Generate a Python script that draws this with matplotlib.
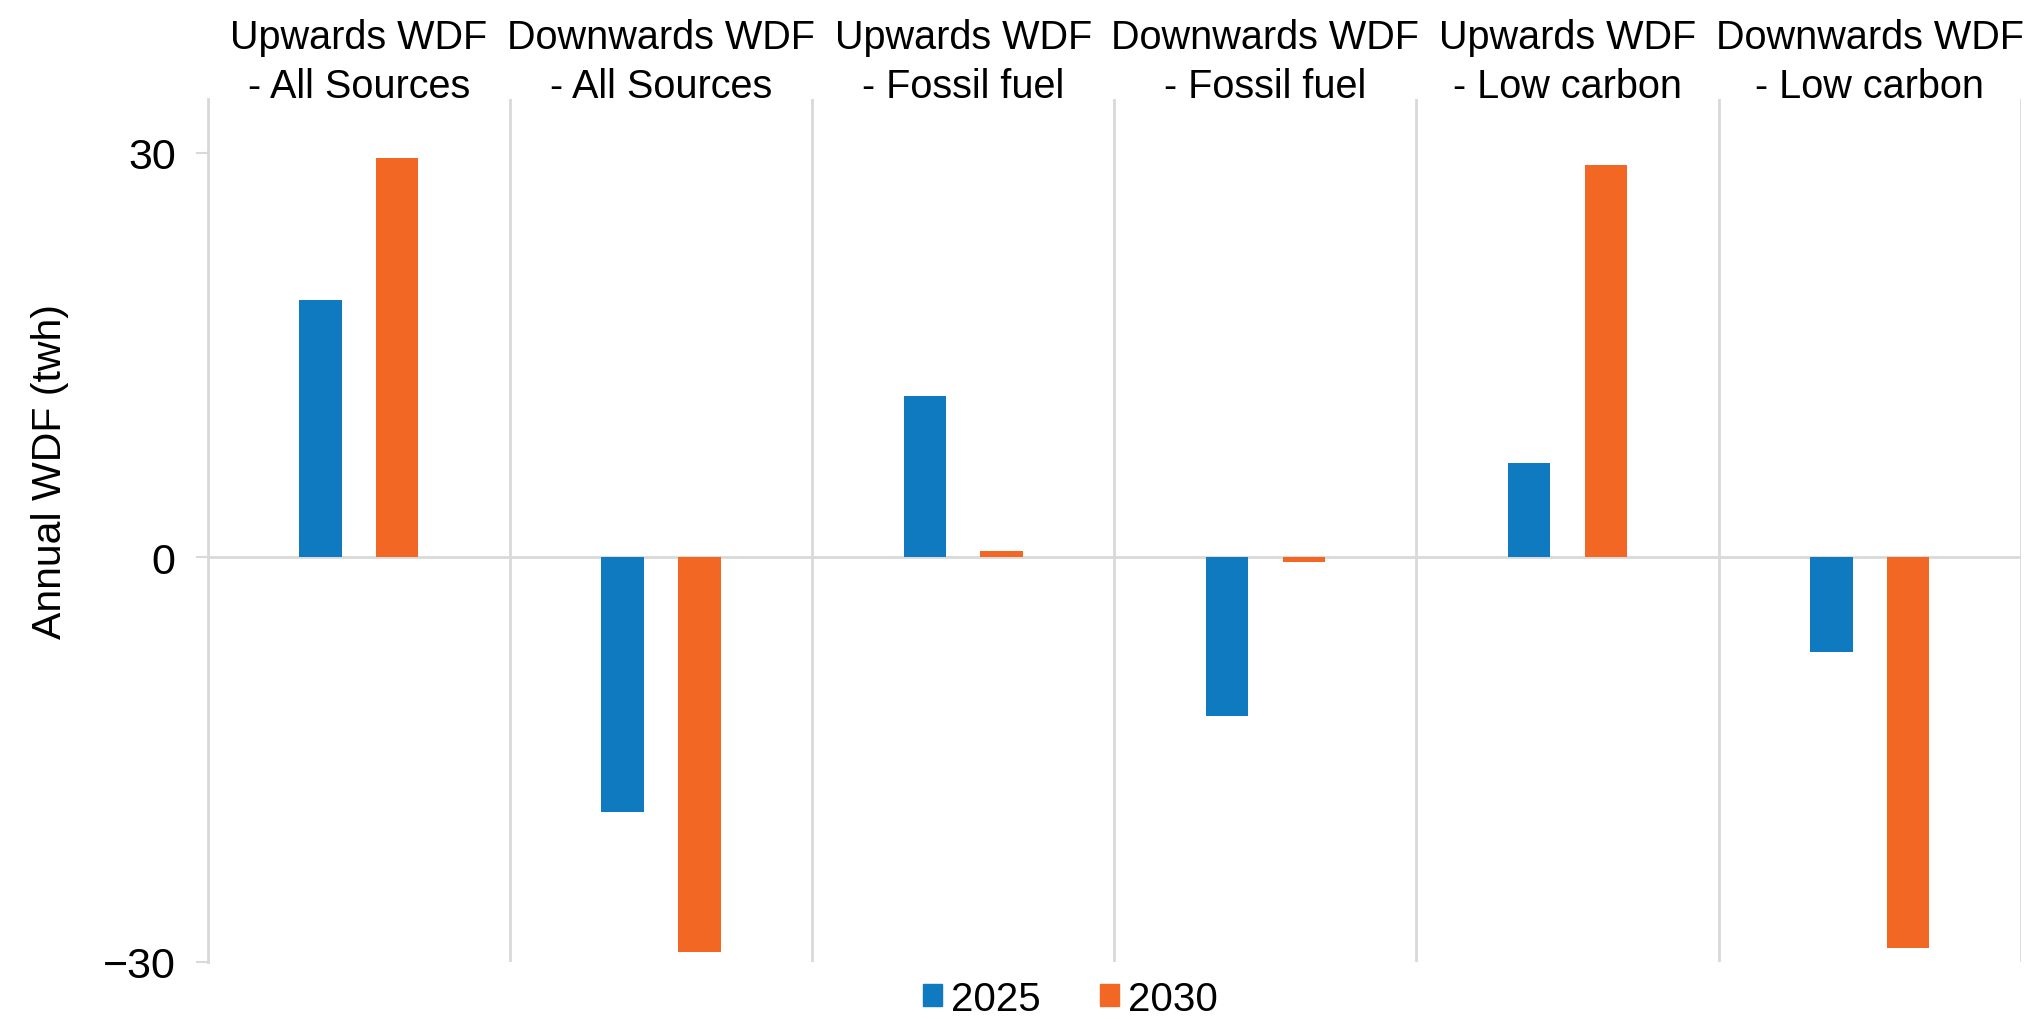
import numpy as np
import matplotlib.pyplot as plt
from matplotlib.patches import Patch

# ------------------------------
# Data: annual WDF (TWh) per category
# ------------------------------
categories = [
    "Upwards WDF\n- All Sources",
    "Downwards WDF\n- All Sources",
    "Upwards WDF\n- Fossil fuel",
    "Downwards WDF\n- Fossil fuel",
    "Upwards WDF\n- Low carbon",
    "Downwards WDF\n- Low carbon",
]
wdf_2025 = [19.1, -18.9, 12.0, -11.8, 7.0, -7.0]
wdf_2030 = [29.6, -29.3, 0.5, -0.35, 29.1, -29.0]
series_labels = ["2025", "2030"]
y_ticks = [-30, 0, 30]

BLUE = "#0F7AC0"
ORANGE = "#F36724"
GRID = "#D9D9D9"
TEXT_FONT = ["Liberation Sans", "DejaVu Sans"]

fig = plt.figure(figsize=(20.28, 10.2), dpi=100)
ax = fig.add_axes([0.1024, 0.056, 0.8941, 0.846])

x = np.arange(len(categories))
offset = 0.127
width = 0.14
ax.bar(x - offset, wdf_2025, width, color=BLUE, zorder=3)
ax.bar(x + offset, wdf_2030, width, color=ORANGE, zorder=3)

ax.set_xlim(-0.5, len(categories) - 0.5)
ax.set_ylim(-30, 34)

# zero line and category separators
ax.axhline(0, color=GRID, lw=2, zorder=2)
ax.set_xticks(np.arange(-0.5, len(categories), 1), minor=True)
ax.grid(axis="x", which="minor", color=GRID, lw=2, zorder=1)
ax.tick_params(axis="x", which="minor", length=0)

# category titles on top
ax.xaxis.tick_top()
ax.set_xticks(x)
ax.set_xticklabels(categories, fontsize=28.5, family=TEXT_FONT, linespacing=1.35)
ax.tick_params(axis="x", which="major", length=0, pad=-4)

ax.set_yticks(y_ticks)
ax.set_yticklabels([str(t).replace("-", "\u2212") for t in y_ticks], fontsize=31, family=TEXT_FONT)
ax.tick_params(axis="y", length=9, width=1.5, color=GRID, pad=14)

for side in ["top", "right", "bottom"]:
    ax.spines[side].set_visible(False)
ax.spines["left"].set_color(GRID)
ax.spines["left"].set_linewidth(2)

fig.text(0.0245, 0.538, "Annual WDF (twh)", rotation=90, ha="center", va="center",
         fontsize=29.5, family=TEXT_FONT)

handles = [Patch(color=BLUE), Patch(color=ORANGE)]
fig.legend(handles, series_labels, loc="center", bbox_to_anchor=(0.528, 0.02), ncol=2,
           frameon=False, prop={"family": TEXT_FONT, "size": 29},
           handlelength=0.47, handleheight=0.47, handletextpad=0.23, columnspacing=1.47)

fig.savefig("out.png", dpi=100)
